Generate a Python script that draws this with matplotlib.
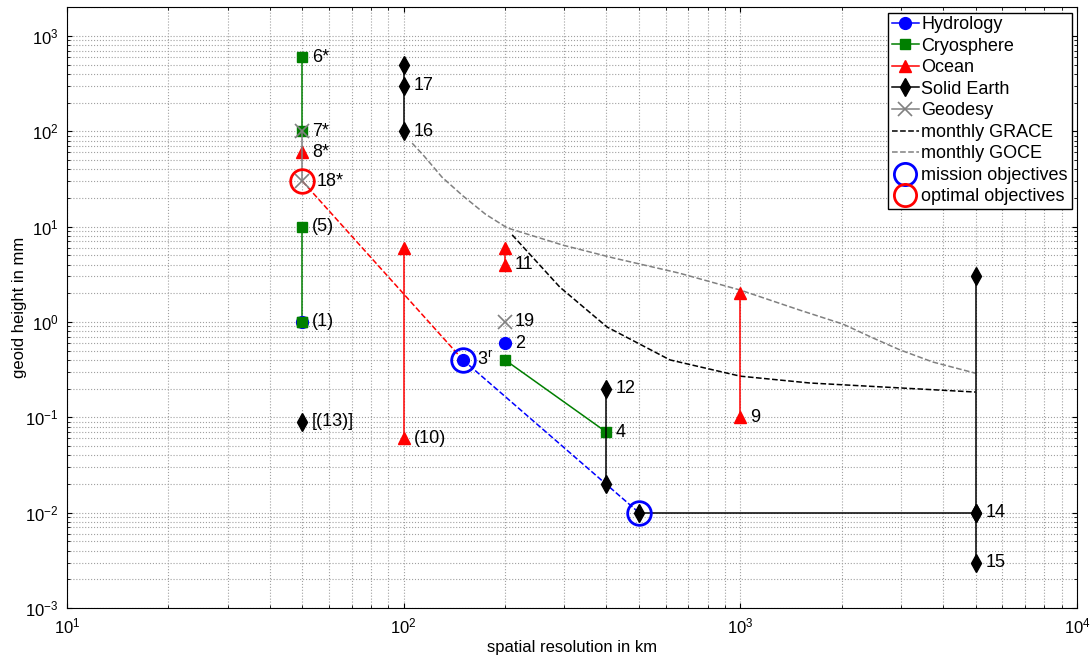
import matplotlib.pyplot as plt
from matplotlib.lines import Line2D

plt.rcParams['font.family'] = ['Liberation Sans', 'DejaVu Sans']
plt.rcParams['mathtext.fontset'] = 'custom'
plt.rcParams['mathtext.rm'] = 'Liberation Sans'

# requirement groups: (resolution km, geoid height mm)
hydro_pts = [(50, 1.0), (200, 0.6), (150, 0.4)]
cryo_segs = [[(50, 600), (50, 100)], [(50, 10), (50, 1.0)], [(200, 0.4), (400, 0.07)]]
ocean_segs = [[(50, 60)], [(100, 6), (100, 0.06)], [(200, 6), (200, 4)], [(1000, 2), (1000, 0.1)]]
solid_segs = [[(100, 500), (100, 300), (100, 100)], [(50, 0.09)],
              [(400, 0.2), (400, 0.02)], [(500, 0.01), (5000, 0.01)],
              [(5000, 3), (5000, 0.01), (5000, 0.003)]]
geod_segs = [[(50, 100), (50, 30)], [(200, 1.0)]]

grace_x = [210, 291, 402, 618, 1000, 1610, 5000]
grace_y = [8.2, 2.32, 0.885, 0.40, 0.27, 0.229, 0.184]
goce_x = [106, 115, 130, 150, 175, 203, 297, 419, 657, 1000, 1503, 2018, 2477, 2978, 3733, 5000]
goce_y = [75, 55, 33, 21, 13.5, 9.7, 6.4, 4.7, 3.26, 2.16, 1.33, 0.95, 0.68, 0.51, 0.38, 0.29]

mission = [(150, 0.4), (500, 0.01)]
optimal = [(50, 30)]

labels = [('6*', 50, 600), ('7*', 50, 100), ('8*', 50, 60), ('18*', 50, 30),
          ('(5)', 50, 10), ('(1)', 50, 1.0), ('[(13)]', 50, 0.09),
          ('17', 100, 300), ('16', 100, 100), ('(10)', 100, 0.06),
          ('11', 200, 4), ('19', 200, 1.0), ('2', 200, 0.6), ('3$^\\mathrm{r}$', 150, 0.4),
          ('4', 400, 0.07), ('12', 400, 0.2), ('9', 1000, 0.1),
          ('14', 5000, 0.01), ('15', 5000, 0.003)]

fig = plt.figure(figsize=(10.9, 6.58), dpi=100)
ax = fig.add_axes([0.0615, 0.076, 0.9265, 0.913])
ax.set_xscale('log')
ax.set_yscale('log')

green = '#007f00'
grey = '#808080'

def draw(segs, **kw):
    for s in segs:
        xs, ys = zip(*s)
        ax.plot(xs, ys, **kw)

# connecting dashed lines between objectives
ax.plot([optimal[0][0], mission[0][0]], [optimal[0][1], mission[0][1]], '--', color='red', lw=1.1, zorder=2)
ax.plot([mission[0][0], mission[1][0]], [mission[0][1], mission[1][1]], '--', color='blue', lw=1.1, zorder=2)

ax.plot(grace_x, grace_y, '--', color='black', lw=1.1, zorder=2)
ax.plot(goce_x, goce_y, '--', color=grey, lw=1.1, zorder=2)

draw(cryo_segs, color=green, marker='s', ms=6.5, lw=1.1, zorder=3)
draw(geod_segs, color=grey, marker='x', ms=10, mew=1.2, lw=1.1, zorder=4)
draw(ocean_segs, color='red', marker='^', ms=9, lw=1.1, zorder=3)
draw(solid_segs, color='black', marker='d', ms=9, lw=1.1, zorder=3)
hx, hy = zip(*hydro_pts)
ax.plot(hx, hy, 'o', color='blue', ms=8.5, zorder=3)
ax.plot([50], [1.0], 's', color=green, ms=6.5, zorder=4)

mx, my = zip(*mission)
ax.plot(mx, my, 'o', mfc='none', mec='blue', ms=17, mew=2, zorder=5)
ox, oy = zip(*optimal)
ax.plot(ox, oy, 'o', mfc='none', mec='red', ms=17, mew=2, zorder=5)

for txt, x, y in labels:
    off = 10 if txt in ('3$^\\mathrm{r}$', '18*') else 7
    ax.annotate(txt, (x, y), xytext=(off, 0), textcoords='offset points',
                va='center', ha='left', fontsize=13)

ax.set_xlim(10, 1e4)
ax.set_ylim(1e-3, 2e3)
ax.set_yticks([1e-3, 1e-2, 1e-1, 1, 10, 100, 1000])
ax.grid(True, which='both', linestyle=':', color='#a0a0a0', lw=0.8)
ax.tick_params(which='both', direction='in', top=True, right=True, labelsize=12, pad=6)
ax.set_xlabel('spatial resolution in km', fontsize=12, labelpad=3)
ax.set_ylabel('geoid height in mm', fontsize=12, labelpad=-1)

handles = [
    Line2D([], [], color='blue', marker='o', ms=8.5, lw=1.1),
    Line2D([], [], color=green, marker='s', ms=6.5, lw=1.1),
    Line2D([], [], color='red', marker='^', ms=9, lw=1.1),
    Line2D([], [], color='black', marker='d', ms=9, lw=1.1),
    Line2D([], [], color=grey, marker='x', ms=10, mew=1.2, lw=1.1),
    Line2D([], [], color='black', ls='--', lw=1.1),
    Line2D([], [], color=grey, ls='--', lw=1.1),
    Line2D([], [], ls='none', marker='o', mfc='none', mec='blue', ms=16, mew=2),
    Line2D([], [], ls='none', marker='o', mfc='none', mec='red', ms=16, mew=2),
]
names = ['Hydrology', 'Cryosphere', 'Ocean', 'Solid Earth', 'Geodesy',
         'monthly GRACE', 'monthly GOCE', 'mission objectives', 'optimal objectives']
leg = ax.legend(handles, names, loc='upper right', fontsize=13, fancybox=False,
                framealpha=1, edgecolor='black', handlelength=1.5, handletextpad=0.15,
                labelspacing=0.25, borderpad=0.2, borderaxespad=0.3)
leg.get_frame().set_linewidth(1.0)

fig.savefig('out.png', dpi=100)
